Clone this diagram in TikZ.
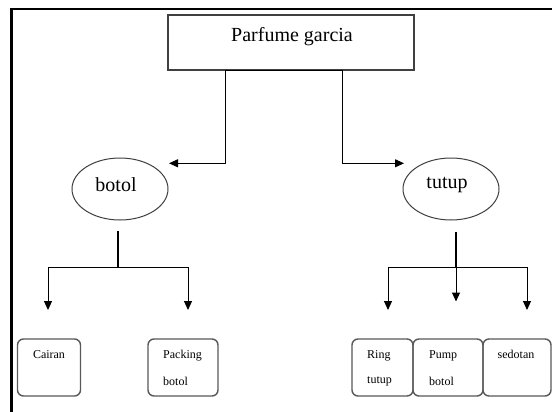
\documentclass[tikz,border=0pt]{standalone}
\usepackage{fontspec}
\setmainfont{Liberation Serif}
\usetikzlibrary{shapes.geometric,arrows.meta}
\begin{document}
\begin{tikzpicture}[x=1pt,y=-1pt,
  frame/.style={line width=2.4pt,black},
  topbox/.style={draw=black!75,line width=1.3pt,rectangle,inner sep=0pt},
  oval/.style={draw=black!75,line width=1pt,ellipse,inner sep=0pt,minimum width=96pt,minimum height=62pt},
  leaf/.style={draw=black!65,line width=1.4pt,rectangle,rounded corners=6pt,inner sep=0pt,minimum height=57pt},
  bigtext/.style={font=\fontsize{20}{24}\selectfont,inner sep=0pt},
  smalltext/.style={font=\fontsize{12}{27}\selectfont,inner sep=0pt,align=left},
  conn/.style={draw=black,line width=1pt},
  stem/.style={draw=black,line width=2pt},
  arr/.style={-{Triangle[length=9pt,width=8pt]}}
]
\useasboundingbox (0,0) rectangle (552,412);
\fill[white] (0,0) rectangle (552,412);
% outer frame
\draw[frame] (552,9.3) -- (11.3,9.3) -- (11.3,413);
% top box
\node[topbox,minimum width=246pt,minimum height=55pt] (top) at (291,42.5) {};
\node[bigtext] (toptext) at (292,37) {Parfume garcia};
% ellipses
\node[oval] (botol) at (120,189) {};
\node[bigtext] (botoltext) at (116,185) {botol};
\node[oval] (tutup) at (451,189) {};
\node[bigtext] (tutuptext) at (447,185) {tutup};
% leaves
\node[leaf,minimum width=63pt] (cairan) at (49,367.5) {};
\node[smalltext,anchor=base] (cairantext) at (49,358) {Cairan};
\node[leaf,minimum width=70pt] (packing) at (183,367.5) {};
\node[smalltext,anchor=base west] (packingtext) at (163,385) {Packing\\botol};
\node[leaf,minimum width=61pt] (ring) at (382.5,367.5) {};
\node[smalltext,anchor=base west,font=\fontsize{12}{25}\selectfont] (ringtext) at (367,383) {Ring\\tutup};
\node[leaf,minimum width=70pt] (pump) at (448,367.5) {};
\node[smalltext,anchor=base west] (pumptext) at (429,385) {Pump\\botol};
\node[leaf,minimum width=68pt] (sedotan) at (517,367.5) {};
\node[smalltext,anchor=base] (sedotantext) at (516,358) {sedotan};
% connector coordinates
\coordinate (tipL) at (169,163.3);
\coordinate (tipR) at (404,163.3);
\coordinate (bL) at (118,231);
\coordinate (bJ) at (118,267);
\coordinate (tL) at (456,232);
\coordinate (tJ) at (456,267);
\coordinate (a1) at (48,310);
\coordinate (a2) at (188,310);
\coordinate (a3) at (388,310);
\coordinate (a4) at (456,301.5);
\coordinate (a5) at (527,310);
% top connectors
\draw[conn,{Triangle[length=9pt,width=8pt]}-{Triangle[length=9pt,width=8pt]}]
  (tipL) -- (225,163.3) -- (225,70.7) -- (342.7,70.7) -- (342.7,163.3) -- (tipR);
\draw[line width=1.6pt] (225,70.7) -- (342.7,70.7);
% botol subtree
\draw[stem] (bL) -- (bJ);
\draw[conn] (48,267) -- (188,267);
\draw[conn,arr] (48,267) -- (a1);
\draw[conn,arr] (188,267) -- (a2);
% tutup subtree
\draw[stem] (tL) -- (tJ);
\draw[conn] (388,267) -- (527,267);
\draw[conn,arr] (388,267) -- (a3);
\draw[conn,arr] (tJ) -- (a4);
\draw[conn,arr] (527,267) -- (a5);
\end{tikzpicture}
\end{document}
